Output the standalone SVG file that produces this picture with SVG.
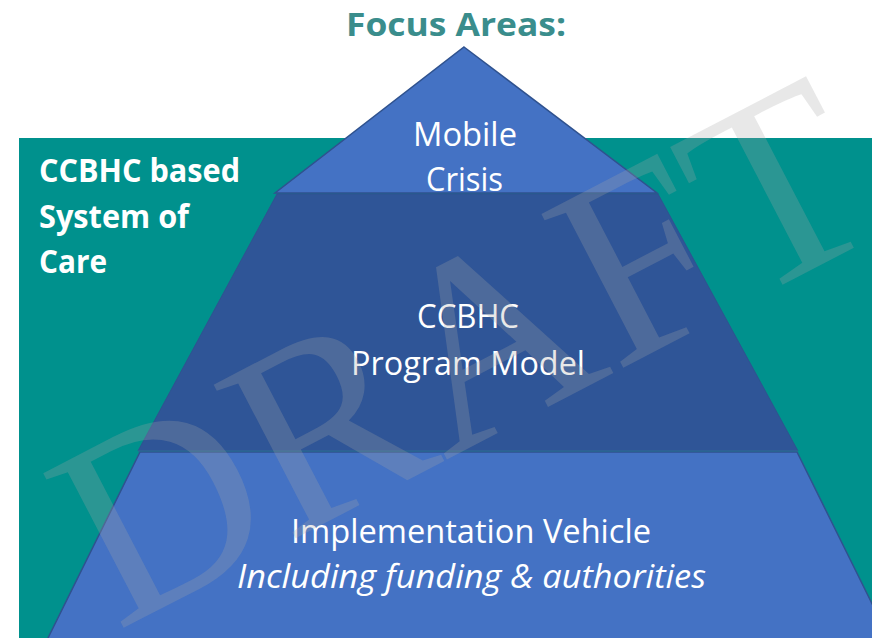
<svg xmlns="http://www.w3.org/2000/svg" width="872" height="638" viewBox="0 0 872 638">
  <style>
    .lbl { font-family: "Open Sans", "Liberation Sans", sans-serif; fill: #FFFFFF; }
    .bold { font-weight: 700; }
    .c { text-anchor: middle; font-size: 32px; }
    .side { font-size: 32px; }
    .tier { stroke: #2F528F; stroke-width: 1.5; stroke-linejoin: miter; }
    .wm { font-family: "Liberation Serif", "Times New Roman", serif; font-size: 266px; fill: #A6A6A6; fill-opacity: 0.26; }
  </style>
  <rect width="872" height="638" fill="#FFFFFF"/>

  <g id="title">
    <text x="456" y="36" class="lbl bold" style="fill:#3A8D8C;font-size:32.5px" text-anchor="middle" textLength="220" lengthAdjust="spacingAndGlyphs">Focus Areas:</text>
  </g>

  <g id="system-of-care">
    <rect x="19" y="138" width="853" height="500" fill="#00918D"/>
    <text class="lbl bold side" x="39" y="182" textLength="201" lengthAdjust="spacingAndGlyphs">CCBHC based</text>
    <text class="lbl bold side" x="39" y="228" textLength="150" lengthAdjust="spacingAndGlyphs">System of</text>
    <text class="lbl bold side" x="39" y="273" textLength="68" lengthAdjust="spacingAndGlyphs">Care</text>
  </g>

  <g id="implementation-vehicle">
    <polygon class="tier" points="140,452 797,452 890,640 47,640" fill="#4472C4"/>
    <text class="lbl c" x="471" y="543" textLength="360" lengthAdjust="spacingAndGlyphs">Implementation Vehicle</text>
    <text class="lbl c" x="471.5" y="588" font-style="italic" textLength="469" lengthAdjust="spacingAndGlyphs">Including funding &amp; authorities</text>
  </g>

  <g id="program-model">
    <polygon points="277,194 658,194 798,451 138,451" fill="#2F5597" stroke="#2E5490" stroke-width="1"/>
    <line x1="138" y1="451" x2="798" y2="451" stroke="#2F7F99" stroke-width="1" stroke-opacity="0.6"/>
    <text class="lbl c" x="468" y="328" textLength="102" lengthAdjust="spacingAndGlyphs">CCBHC</text>
    <text class="lbl c" x="468" y="375" textLength="234" lengthAdjust="spacingAndGlyphs">Program Model</text>
  </g>

  <g id="mobile-crisis">
    <polygon class="tier" points="464,47 657,193 275,193" fill="#4472C4"/>
    <text class="lbl c" x="465" y="146" textLength="104" lengthAdjust="spacingAndGlyphs">Mobile</text>
    <text class="lbl c" x="464.5" y="191" textLength="77" lengthAdjust="spacingAndGlyphs">Crisis</text>
  </g>

  <g id="watermark">
    <text class="wm" text-anchor="middle" transform="translate(463,352) rotate(-27.5)" x="0" y="88">DRAFT</text>
  </g>
</svg>
